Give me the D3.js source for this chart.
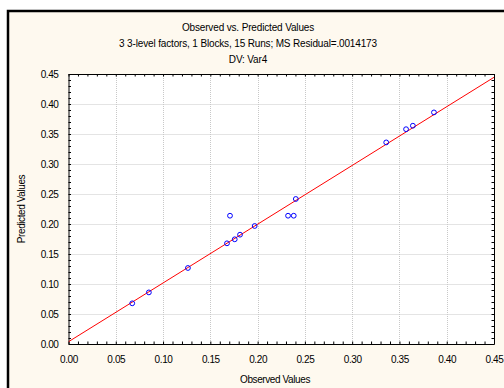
<!DOCTYPE html>
<html>
<head>
<meta charset="utf-8">
<script src="https://cdn.jsdelivr.net/npm/d3@7"></script>
<style>
  html, body { margin: 0; padding: 0; background: #fff; }
  svg text { font-family: "Liberation Sans", Arial, sans-serif; fill: #000; }
</style>
</head>
<body>
<svg id="chart" width="504" height="388"></svg>
<script>
// data
const observed = [0.0674, 0.085, 0.1263, 0.1676, 0.1708, 0.1758, 0.1814, 0.1969,
                  0.2322, 0.2382, 0.2404, 0.336, 0.357, 0.3642, 0.3865];
const predicted = [0.0678, 0.086, 0.1267, 0.1678, 0.2138, 0.1745, 0.1822, 0.1967,
                   0.2138, 0.2138, 0.2417, 0.336, 0.358, 0.3638, 0.386];
const fitLine = [0.0038, 0.9793]; // intercept, slope
const tickValues = [0, 0.05, 0.10, 0.15, 0.20, 0.25, 0.30, 0.35, 0.40, 0.45];
const titles = ["Observed vs. Predicted Values",
                "3 3-level factors, 1 Blocks, 15 Runs; MS Residual=.0014173",
                "DV: Var4"];

const svg = d3.select('#chart');
const plot = { left: 68.5, right: 494, top: 74, bottom: 344 };

// cream panel with the black frame on top/left
svg.append('rect')
    .attr('x', 8).attr('y', 11).attr('width', 500).attr('height', 380)
    .attr('fill', '#fef9ef');
svg.append('path')
    .attr('d', 'M8,388V11H504')
    .attr('fill', 'none').attr('stroke', '#000').attr('stroke-width', 2.5);

const x = d3.scaleLinear().domain([0, 0.45]).range([plot.left, plot.right]);
const y = d3.scaleLinear().domain([0, 0.45]).range([plot.bottom, plot.top]);

svg.append('rect')
    .attr('x', plot.left).attr('y', plot.top)
    .attr('width', plot.right - plot.left).attr('height', plot.bottom - plot.top)
    .attr('fill', '#fff');

// grid
const grid = svg.append('g').attr('stroke', '#c8c8c8').attr('stroke-dasharray', '1,1');
grid.selectAll('.gx').data(tickValues.slice(1, -1)).join('line')
    .attr('class', 'gx')
    .attr('x1', d => Math.round(x(d)) + 0.5).attr('x2', d => Math.round(x(d)) + 0.5)
    .attr('y1', plot.top).attr('y2', plot.bottom);
grid.selectAll('.gy').data(tickValues.slice(1, -1)).join('line')
    .attr('class', 'gy')
    .attr('y1', d => Math.round(y(d)) + 0.5).attr('y2', d => Math.round(y(d)) + 0.5)
    .attr('x1', plot.left).attr('x2', plot.right);

// axes: inside ticks, minor every 0.01
const minor = d3.range(0, 0.4501, 0.01);
const fmt = d3.format('.2f');
const frame = svg.append('g');

function side(axisFn, scale, transform) {
    const g = frame.append('g').attr('transform', transform);
    g.call(axisFn(scale).tickValues(minor).tickSize(-2.5).tickSizeOuter(0).tickFormat(''));
    g.selectAll('.domain').attr('stroke', '#000');
    g.selectAll('.tick line').attr('stroke', '#000');
    return g;
}
side(d3.axisBottom, x, `translate(0,${plot.bottom})`);
side(d3.axisTop, x, `translate(0,${plot.top})`);
side(d3.axisLeft, y, `translate(${plot.left},0)`);
side(d3.axisRight, y, `translate(${plot.right},0)`);

// tick labels
const xl = svg.append('g')
    .attr('transform', `translate(0,${plot.bottom})`)
    .call(d3.axisBottom(x).tickValues(tickValues).tickFormat(fmt).tickSize(0).tickPadding(12));
xl.select('.domain').remove();
xl.selectAll('text').attr('font-size', 10).attr('letter-spacing', -0.4);

const yl = svg.append('g')
    .attr('transform', `translate(${plot.left},0)`)
    .call(d3.axisLeft(y).tickValues(tickValues).tickFormat(fmt).tickSize(0).tickPadding(10));
yl.select('.domain').remove();
yl.selectAll('text').attr('font-size', 10).attr('letter-spacing', -0.4);

// fit line, clipped to the plot
svg.append('clipPath').attr('id', 'clip').append('rect')
    .attr('x', plot.left).attr('y', plot.top)
    .attr('width', plot.right - plot.left).attr('height', plot.bottom - plot.top);
svg.append('line')
    .attr('clip-path', 'url(#clip)')
    .attr('x1', x(0)).attr('y1', y(fitLine[0]))
    .attr('x2', x(0.45)).attr('y2', y(fitLine[0] + fitLine[1] * 0.45))
    .attr('stroke', '#ff0000').attr('stroke-width', 1);

// points
svg.append('g').selectAll('circle')
    .data(observed.map((o, i) => [o, predicted[i]]))
    .join('circle')
    .attr('cx', d => x(d[0])).attr('cy', d => y(d[1]))
    .attr('r', 2.4)
    .attr('fill', 'none').attr('stroke', '#0000ff').attr('stroke-width', 1);

// titles
svg.append('g').selectAll('text').data(titles).join('text')
    .attr('x', 248).attr('y', (d, i) => 31 + i * 16)
    .attr('text-anchor', 'middle')
    .attr('font-size', 10).attr('letter-spacing', -0.15)
    .text(d => d);

svg.append('text')
    .attr('x', 275).attr('y', 383)
    .attr('text-anchor', 'middle')
    .attr('font-size', 10).attr('letter-spacing', -0.4)
    .text('Observed Values');

svg.append('text')
    .attr('transform', 'translate(25,209) rotate(-90)')
    .attr('text-anchor', 'middle')
    .attr('font-size', 10).attr('letter-spacing', -0.4)
    .text('Predicted Values');
</script>
</body>
</html>
